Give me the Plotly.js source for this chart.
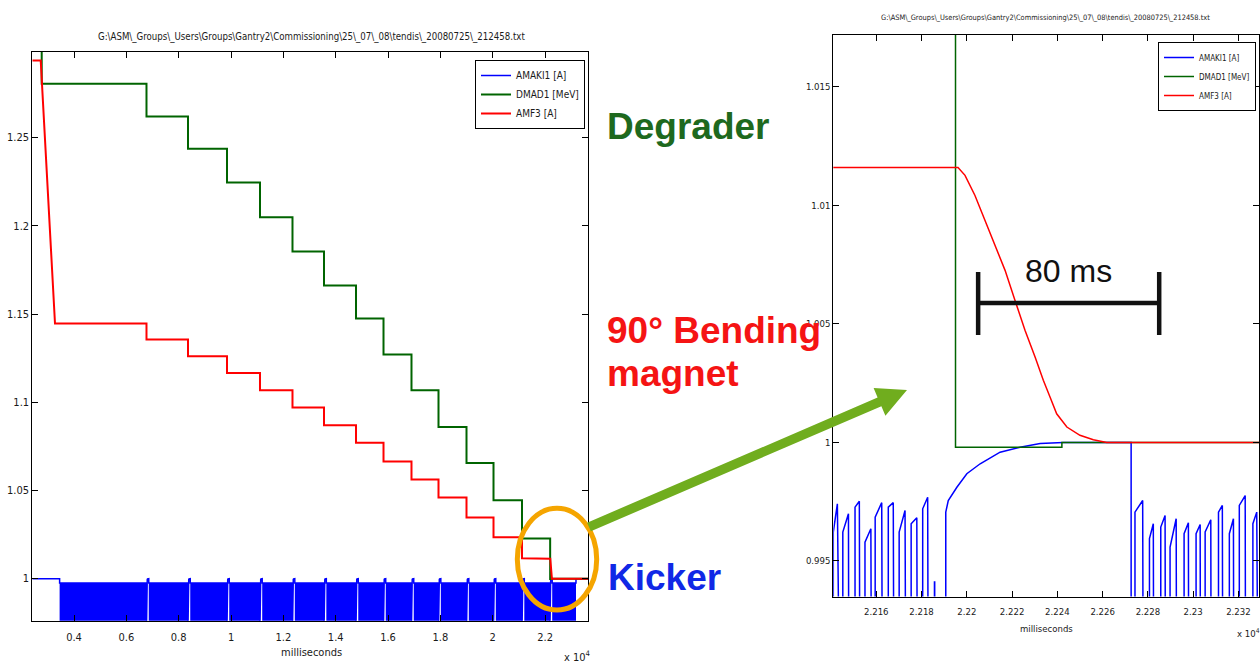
<!DOCTYPE html>
<html>
<head>
<meta charset="utf-8">
<title>Gantry 2 energy change: degrader, bending magnet and kicker</title>
<script src="https://cdn.plot.ly/plotly-3.0.1.min.js"></script>
<style>
  html, body { margin: 0; padding: 0; background: #ffffff; }
  #chart { width: 1260px; height: 666px; }
</style>
</head>
<body>
<div id="chart"></div>
<script>
// ---------------------------------------------------------------------------
// Logged signals of file _20080725_212458.txt, time in milliseconds
// ---------------------------------------------------------------------------

// DMAD1 [MeV] - degrader setting, one level per energy step
const dmad1T = [2407, 2766, 6770, 8356, 9846, 11107, 12349, 13553, 14776, 15827,
                16896, 17928, 18998, 20030, 21119, 22195, 22242, 23641];
const dmad1V = [1.3100, 1.2805, 1.2619, 1.2437, 1.2246, 1.2048, 1.1855, 1.1662, 1.1474, 1.1270,
                1.1068, 1.0860, 1.0656, 1.0445, 1.0228, 0.9998, 1.0000, 1.0000];

// AMF3 [A] - 90 degree bending magnet: start level and first ramp
const amf3HeadT = [2407, 2728, 3274];
const amf3HeadV = [1.2937, 1.2937, 1.1446];
// AMF3 plateaus, switched together with the degrader
const amf3StepT = [6770, 8356, 9846, 11107, 12349, 13553, 14776, 15827, 16896, 17928, 18998, 20030, 21119];
const amf3StepV = [1.1355, 1.1260, 1.1166, 1.1068, 1.0970, 1.0870, 1.0770, 1.0664, 1.0562, 1.0460, 1.0347, 1.0234, 1.0116];
// AMF3 settling during the last energy change (sampled finely)
const amf3FallT = [22196.1, 22199.2, 22203.6, 22208.1, 22212.5, 22216.9, 22221.3, 22225.7,
                   22230.2, 22233.8, 22236.8, 22239.7, 22244.2, 22250.0, 22255.9, 22261.8, 23641];
const amf3FallV = [1.01160, 1.01127, 1.01042, 1.00937, 1.00831, 1.00726, 1.00599, 1.00473,
                   1.00359, 1.00262, 1.00191, 1.00121, 1.00065, 1.00030, 1.00011, 1.00000, 1.00000];

// AMAKI1 [A] - kicker: idle level, pulsing window, sawtooth peak level and floor
const kickerIdle = 1.0;
const kickerPeak = 0.9976;
const kickerFloor = 0.976;
const kickerStartT = 3450;
const kickerEndT = 23182;
// beam-off windows of the kicker (one per energy step)
const kickerOffT = [6775, 8360, 9850, 11110, 12355, 13560, 14780, 15830, 16900, 17935,
                    19005, 20035, 21125, 22191];
// kicker recovery towards the idle level inside one beam-off window
const kickerRecT = [22190.7, 22191.8, 22195.6, 22200.0, 22205.9, 22214.7, 22223.5, 22232.4, 22242.7, 22272.6];
const kickerRecV = [0.99706, 0.99755, 0.99811, 0.99868, 0.99910, 0.99959, 0.99980, 0.99995, 1.00000, 1.00000];

// single kicker pulses around the last energy change: rise time/level, peak time/level, drop time
const pulseRiseT = [22141.0, 22145.2, 22150.6, 22155.0, 22159.5, 22165.3, 22170.1, 22175.4, 22180.5, 22185.7,
                    22274.3, 22280.7, 22285.7, 22289.8, 22296.0, 22301.3, 22305.3, 22311.2, 22316.0, 22320.4, 22326.4];
const pulseRiseV = [0.99622, 0.99622, 0.99727, 0.99579, 0.99685, 0.99727, 0.99622, 0.99657, 0.99720, 0.99411,
                    0.99706, 0.99594, 0.99643, 0.99558, 0.99615, 0.99615, 0.99622, 0.99706, 0.99615, 0.99734, 0.99657];
const pulsePeakT = [22142.8, 22147.7, 22152.5, 22157.6, 22162.4, 22167.5, 22172.7, 22177.9, 22182.7, 22185.8,
                    22277.7, 22282.4, 22287.6, 22292.5, 22297.9, 22303.1, 22307.8, 22312.9, 22317.8, 22323.0, 22328.1];
const pulsePeakV = [0.99741, 0.99699, 0.99752, 0.99636, 0.99746, 0.99746, 0.99713, 0.99682, 0.99769, 0.99411,
                    0.99755, 0.99657, 0.99692, 0.99678, 0.99661, 0.99654, 0.99674, 0.99734, 0.99678, 0.99776, 0.99706];
const pulseDropT = [22143.2, 22148.1, 22153.1, 22158.3, 22163.1, 22168.2, 22173.5, 22178.5, 22183.3, 22186.1,
                    22278.3, 22282.9, 22288.0, 22293.0, 22298.3, 22303.5, 22308.2, 22313.4, 22318.2, 22323.4, 22329.5];

// scale bar of the detail view
const scaleBarStart = 22205;
const scaleBarMs = 80;

// tick labels (values in units of 10^4 ms)
const overviewTickX = [4000, 6000, 8000, 10000, 12000, 14000, 16000, 18000, 20000, 22000];
const overviewTickXText = ['0.4', '0.6', '0.8', '1', '1.2', '1.4', '1.6', '1.8', '2', '2.2'];
const overviewTickY = [1, 1.05, 1.1, 1.15, 1.2, 1.25];
const overviewTickYText = ['1', '1.05', '1.1', '1.15', '1.2', '1.25'];
const detailTickX = [22160, 22180, 22200, 22220, 22240, 22260, 22280, 22300, 22320];
const detailTickXText = ['2.216', '2.218', '2.22', '2.222', '2.224', '2.226', '2.228', '2.23', '2.232'];
const detailTickY = [0.995, 1, 1.005, 1.01, 1.015];
const detailTickYText = ['0.995', '1', '1.005', '1.01', '1.015'];

const fileName = 'G:\\ASM\\_Groups\\_Users\\Groups\\Gantry2\\Commissioning\\25\\_07\\_08\\tendis\\_20080725\\_212458.txt';

// ---------------------------------------------------------------------------
// Build the polylines
// ---------------------------------------------------------------------------
const COL_BLUE = 'rgb(0,0,255)';
const COL_GREEN = 'rgb(0,100,0)';
const COL_RED = 'rgb(255,0,0)';

// AMF3: head ramp, then vertical steps, then the fine settling samples
const amf3X = amf3HeadT.slice();
const amf3Y = amf3HeadV.slice();
amf3StepT.forEach((t, i) => {
  amf3X.push(t, t);
  amf3Y.push(amf3Y[amf3Y.length - 1], amf3StepV[i]);
});
amf3FallT.forEach((t, i) => { amf3X.push(t); amf3Y.push(amf3FallV[i]); });

// overview kicker: solid sawtooth blocks between the beam-off windows
const offLen = kickerRecT[kickerRecT.length - 1] - kickerRecT[0];
const bandX = [], bandY = [];
let segStart = kickerStartT;
function pushBlock(s, e) {
  bandX.push(s, s, e, e, null);
  bandY.push(kickerFloor, kickerPeak, kickerPeak, kickerFloor, null);
}
kickerOffT.forEach(g => { pushBlock(segStart, g); segStart = g + offLen; });
pushBlock(segStart, kickerEndT);

// overview kicker: upper edge of the band, with the rise and recovery in each window
const edgeX = [dmad1T[0], kickerStartT, kickerStartT];
const edgeY = [kickerIdle, kickerIdle, kickerPeak];
kickerOffT.forEach(g => {
  edgeX.push(g, g);
  edgeY.push(kickerPeak, kickerFloor);
  kickerRecT.forEach((t, k) => { edgeX.push(g + (t - kickerRecT[0])); edgeY.push(kickerRecV[k]); });
  edgeX.push(g + offLen);
  edgeY.push(kickerPeak);
});
edgeX.push(kickerEndT, kickerEndT, dmad1T[dmad1T.length - 1]);
edgeY.push(kickerPeak, kickerIdle, kickerIdle);

// detail kicker: individual pulses plus the recovery
const segments = pulseRiseT.map((t, i) => ({
  t0: t,
  x: [t, t, pulsePeakT[i], pulseDropT[i]],
  y: [kickerFloor, pulseRiseV[i], pulsePeakV[i], kickerFloor]
}));
segments.push({
  t0: kickerRecT[0],
  x: [kickerRecT[0]].concat(kickerRecT, [kickerRecT[kickerRecT.length - 1]]),
  y: [kickerFloor].concat(kickerRecV, [kickerFloor])
});
segments.sort((a, b) => a.t0 - b.t0);
const pulseX = [], pulseY = [];
segments.forEach(s => { pulseX.push(...s.x); pulseY.push(...s.y); });

// ---------------------------------------------------------------------------
// Traces
// ---------------------------------------------------------------------------
const NARROW = '"DejaVu Sans Condensed", "Liberation Sans Narrow", "Arial Narrow", "Liberation Sans", Arial, sans-serif';
const BOLD = '"Liberation Sans", Arial, sans-serif';

const traces = [
  { x: bandX, y: bandY, xaxis: 'x', yaxis: 'y', mode: 'lines', fill: 'toself',
    fillcolor: COL_BLUE, line: { color: COL_BLUE, width: 0 }, connectgaps: false,
    showlegend: false, hoverinfo: 'skip' },
  { x: edgeX, y: edgeY, xaxis: 'x', yaxis: 'y', mode: 'lines', name: 'AMAKI1 [A]',
    line: { color: COL_BLUE, width: 1.5 }, legend: 'legend' },
  { x: dmad1T, y: dmad1V, xaxis: 'x', yaxis: 'y', mode: 'lines', name: 'DMAD1 [MeV]',
    line: { color: COL_GREEN, width: 2, shape: 'hv' }, legend: 'legend' },
  { x: amf3X, y: amf3Y, xaxis: 'x', yaxis: 'y', mode: 'lines', name: 'AMF3 [A]',
    line: { color: COL_RED, width: 2 }, legend: 'legend' },

  { x: pulseX, y: pulseY, xaxis: 'x2', yaxis: 'y2', mode: 'lines', name: 'AMAKI1 [A]',
    line: { color: COL_BLUE, width: 1.5 }, legend: 'legend2' },
  { x: dmad1T, y: dmad1V, xaxis: 'x2', yaxis: 'y2', mode: 'lines', name: 'DMAD1 [MeV]',
    line: { color: COL_GREEN, width: 1.5, shape: 'hv' }, legend: 'legend2' },
  { x: amf3X, y: amf3Y, xaxis: 'x2', yaxis: 'y2', mode: 'lines', name: 'AMF3 [A]',
    line: { color: COL_RED, width: 1.5 }, legend: 'legend2' }
];

// ---------------------------------------------------------------------------
// Layout
// ---------------------------------------------------------------------------
const W = 1260, H = 666;
const fx = p => p / W;        // pixel column -> paper x
const fy = p => 1 - p / H;    // pixel row -> paper y

function axisStyle(size) {
  return {
    showline: true, linecolor: '#000', linewidth: 1, mirror: 'ticks',
    ticks: 'inside', ticklen: 6, tickwidth: 1, tickcolor: '#000',
    showgrid: false, zeroline: false,
    tickfont: { family: NARROW, size: size, color: '#1a1a1a' }
  };
}

const xaxis = Object.assign(axisStyle(11), {
  domain: [fx(32.3), fx(588)], range: [2406.6, 23640.8], anchor: 'y',
  tickmode: 'array', tickvals: overviewTickX, ticktext: overviewTickXText, ticklabelstandoff: 6
});
const yaxis = Object.assign(axisStyle(11), {
  domain: [fy(620.7), fy(51.7)], range: [0.97616, 1.2987], anchor: 'x',
  tickmode: 'array', tickvals: overviewTickY, ticktext: overviewTickYText
});
const xaxis2 = Object.assign(axisStyle(9.5), {
  domain: [fx(833.3), fx(1259)], range: [22141.0, 22329.1], anchor: 'y2',
  tickmode: 'array', tickvals: detailTickX, ticktext: detailTickXText, ticklabelstandoff: 6
});
const yaxis2 = Object.assign(axisStyle(9.5), {
  domain: [fy(596.5), fy(35)], range: [0.9935, 1.01719], anchor: 'x2',
  tickmode: 'array', tickvals: detailTickY, ticktext: detailTickYText
});

const arrowPts = [[587.1, 522.7], [877.6, 397.6], [873.6, 388.1], [907, 390],
                  [885.4, 415.7], [881.4, 406.2], [590.9, 531.3]];
const arrowPath = 'M ' + arrowPts.map(p => fx(p[0]) + ',' + fy(p[1])).join(' L ') + ' Z';

const shapes = [
  // bracket marking the last energy change
  { type: 'circle', xref: 'paper', yref: 'paper',
    x0: fx(517.3), x1: fx(596.7), y0: fy(610), y1: fy(508.3),
    line: { color: 'rgb(245,165,0)', width: 5 } },
  // pointer to the detail view
  { type: 'path', xref: 'paper', yref: 'paper', path: arrowPath,
    fillcolor: 'rgb(112,173,30)', line: { width: 0 } },
  // 80 ms scale bar
  { type: 'line', xref: 'x2', yref: 'paper', x0: scaleBarStart, x1: scaleBarStart + scaleBarMs,
    y0: fy(303), y1: fy(303), line: { color: '#111', width: 4.5 } },
  { type: 'line', xref: 'x2', yref: 'paper', x0: scaleBarStart, x1: scaleBarStart,
    y0: fy(272), y1: fy(335), line: { color: '#111', width: 4.5 } },
  { type: 'line', xref: 'x2', yref: 'paper', x0: scaleBarStart + scaleBarMs, x1: scaleBarStart + scaleBarMs,
    y0: fy(272), y1: fy(335), line: { color: '#111', width: 4.5 } }
];

const small = (size) => ({ family: NARROW, size: size, color: '#1a1a1a' });
const annotations = [
  { text: fileName, xref: 'paper', yref: 'paper', x: fx(311), y: fy(37),
    xanchor: 'center', yanchor: 'middle', showarrow: false, font: small(9.6) },
  { text: fileName, xref: 'paper', yref: 'paper', x: fx(1045), y: fy(17),
    xanchor: 'center', yanchor: 'middle', showarrow: false, font: small(7.4) },
  { text: 'milliseconds', xref: 'paper', yref: 'paper', x: fx(311), y: fy(652),
    xanchor: 'center', yanchor: 'middle', showarrow: false, font: small(11) },
  { text: 'milliseconds', xref: 'paper', yref: 'paper', x: fx(1046), y: fy(628),
    xanchor: 'center', yanchor: 'middle', showarrow: false, font: small(9.5) },
  { text: 'x 10<sup>4</sup>', xref: 'paper', yref: 'paper', x: fx(593), y: fy(656),
    xanchor: 'right', yanchor: 'middle', showarrow: false, font: small(11) },
  { text: 'x 10<sup>4</sup>', xref: 'paper', yref: 'paper', x: fx(1262), y: fy(633),
    xanchor: 'right', yanchor: 'middle', showarrow: false, font: small(9.5) },
  { text: '<b>Degrader</b>', xref: 'paper', yref: 'paper', x: fx(605), y: fy(127),
    xanchor: 'left', yanchor: 'middle', showarrow: false,
    font: { family: BOLD, size: 37, color: 'rgb(30,105,30)' } },
  { text: '<b>90° Bending</b>', xref: 'paper', yref: 'paper', x: fx(605), y: fy(330),
    xanchor: 'left', yanchor: 'middle', showarrow: false,
    font: { family: BOLD, size: 37, color: 'rgb(245,20,20)' } },
  { text: '<b>magnet</b>', xref: 'paper', yref: 'paper', x: fx(605), y: fy(373),
    xanchor: 'left', yanchor: 'middle', showarrow: false,
    font: { family: BOLD, size: 37, color: 'rgb(245,20,20)' } },
  { text: '<b>Kicker</b>', xref: 'paper', yref: 'paper', x: fx(606), y: fy(577),
    xanchor: 'left', yanchor: 'middle', showarrow: false,
    font: { family: BOLD, size: 37, color: 'rgb(16,40,230)' } },
  { text: scaleBarMs + ' ms', xref: 'x2', yref: 'paper', x: scaleBarStart + scaleBarMs / 2, y: fy(271),
    xanchor: 'center', yanchor: 'middle', showarrow: false,
    font: { family: BOLD, size: 32, color: '#111' } }
];

const layout = {
  width: W, height: H,
  margin: { l: 0, r: 0, t: 0, b: 0, pad: 0 },
  paper_bgcolor: '#ffffff', plot_bgcolor: '#ffffff',
  showlegend: true,
  xaxis: xaxis, yaxis: yaxis, xaxis2: xaxis2, yaxis2: yaxis2,
  legend: {
    x: fx(585), y: fy(60), xanchor: 'right', yanchor: 'top',
    bgcolor: '#ffffff', bordercolor: '#000', borderwidth: 1,
    font: small(10), itemwidth: 30, tracegroupgap: 0
  },
  legend2: {
    x: fx(1256), y: fy(42), xanchor: 'right', yanchor: 'top',
    bgcolor: '#ffffff', bordercolor: '#000', borderwidth: 1,
    font: small(8), itemwidth: 30, tracegroupgap: 0
  },
  shapes: shapes,
  annotations: annotations,
  hovermode: false
};

Plotly.newPlot('chart', traces, layout, { staticPlot: true, displayModeBar: false });
</script>
</body>
</html>
